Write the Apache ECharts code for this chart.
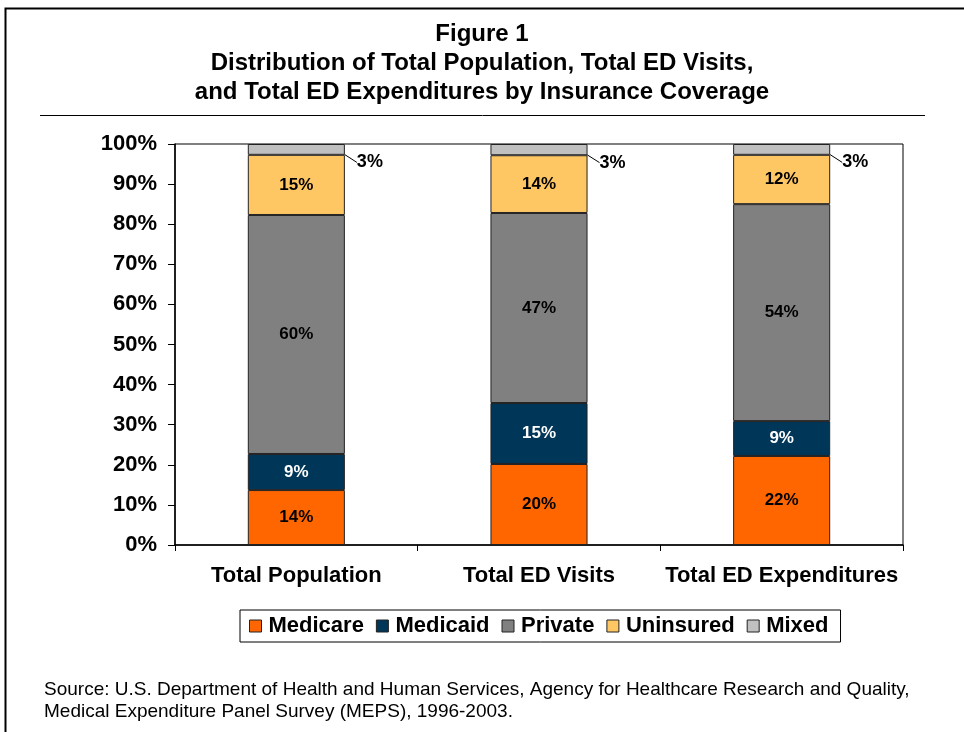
<!DOCTYPE html>
<html>
<head>
<meta charset="utf-8">
<script src="https://cdn.jsdelivr.net/npm/echarts@6/dist/echarts.min.js"></script>
<style>
html,body{margin:0;padding:0;background:#fff;}
#c{width:964px;height:732px;}
</style>
</head>
<body>
<div id="c"></div>
<script>
var categories = ['Total Population', 'Total ED Visits', 'Total ED Expenditures'];
var medicare = [13.7, 20.2, 22.2];
var medicaid = [9.0, 15.2, 8.7];
var privateIns = [59.6, 47.4, 54.1];
var uninsured = [15.0, 14.4, 12.3];
var mixed = [2.7, 2.8, 2.7];
var yTicks = [0, 10, 20, 30, 40, 50, 60, 70, 80, 90, 100];

var FONT = '"Liberation Sans", Arial, sans-serif';
var chart = echarts.init(document.getElementById('c'), null, {renderer: 'canvas'});

function lbl(color) {
  return {
    show: true, position: 'inside', color: color, fontFamily: FONT,
    fontWeight: 'bold', fontSize: 17,
    formatter: function (p) { return Math.round(p.value) + '%'; }
  };
}
var barStyle = function (c) { return {color: c, borderColor: '#222', borderWidth: 1}; };

var series = [
  {name: 'Medicare', data: medicare, color: '#FF6600', label: lbl('#000')},
  {name: 'Medicaid', data: medicaid, color: '#003658', label: lbl('#fff')},
  {name: 'Private', data: privateIns, color: '#808080', label: lbl('#000')},
  {name: 'Uninsured', data: uninsured, color: '#FFC764', label: lbl('#000')},
  {name: 'Mixed', data: mixed, color: '#C0C0C0',
   label: {show: true, position: 'right', distance: 0, color: '#000', fontFamily: FONT,
           fontWeight: 'bold', fontSize: 18,
           formatter: function (p) { return Math.round(p.value) + '%'; }},
   labelLayout: {dx: 12, dy: 13},
   labelLine: {show: true, length2: 0, lineStyle: {color: '#000', width: 1}}}
].map(function (s) {
  return Object.assign({
    type: 'bar', stack: 'total', barWidth: '40%', itemStyle: barStyle(s.color),
    emphasis: {disabled: true}, animation: false
  }, s);
});

chart.setOption({
  animation: false,
  textStyle: {fontFamily: FONT},
  title: {
    text: 'Figure 1\nDistribution of Total Population, Total ED Visits,\nand Total ED Expenditures by Insurance Coverage',
    left: 'center', top: 15,
    textStyle: {fontFamily: FONT, fontWeight: 'bold', fontSize: 24, lineHeight: 29, color: '#000'}
  },
  grid: {left: 175, top: 144, width: 728, height: 401, show: true, borderColor: '#000', borderWidth: 1, backgroundColor: 'transparent'},
  xAxis: {
    type: 'category', data: categories,
    axisLine: {lineStyle: {color: '#000', width: 1.5}},
    axisTick: {show: true, interval: 0, length: 6, lineStyle: {color: '#000'}},
    axisLabel: {interval: 0, color: '#000', fontFamily: FONT, fontWeight: 'bold', fontSize: 22, margin: 20}
  },
  yAxis: {
    type: 'value', min: 0, max: 100, interval: 10,
    axisLine: {show: true, lineStyle: {color: '#000', width: 1.5}},
    axisTick: {show: true, length: 7, lineStyle: {color: '#000'}},
    splitLine: {show: false},
    axisLabel: {color: '#000', fontFamily: FONT, fontWeight: 'bold', fontSize: 22, margin: 18,
      formatter: function (v) { return yTicks.indexOf(v) >= 0 ? v + '%' : ''; }}
  },
  legend: {
    data: ['Medicare', 'Medicaid', 'Private', 'Uninsured', 'Mixed'],
    left: 240, top: 610,
    itemWidth: 12, itemHeight: 12, itemGap: 12,
    icon: 'rect',
    itemStyle: {borderColor: '#222', borderWidth: 1},
    borderColor: '#000', borderWidth: 1, padding: [5, 12, 5, 9],
    textStyle: {fontFamily: FONT, fontWeight: 'bold', fontSize: 22, color: '#000', padding: [0, 0, 0, 2]}
  },
  graphic: [
    {type: 'polyline', shape: {points: [[5.5, 740], [5.5, 8.5], [964, 8.5]]}, style: {stroke: '#000', lineWidth: 2, fill: null}, silent: true},
    {type: 'line', shape: {x1: 40, y1: 115.5, x2: 925, y2: 115.5}, style: {stroke: '#000', lineWidth: 1}, silent: true},
    {type: 'text', left: 44, top: 679, style: {text: 'Source: U.S. Department of Health and Human Services, Agency for Healthcare Research and Quality,\nMedical Expenditure Panel Survey (MEPS), 1996-2003.', fontFamily: FONT, fontSize: 19, lineHeight: 22, fill: '#000'}, silent: true}
  ],
  series: series
});
</script>
</body>
</html>
